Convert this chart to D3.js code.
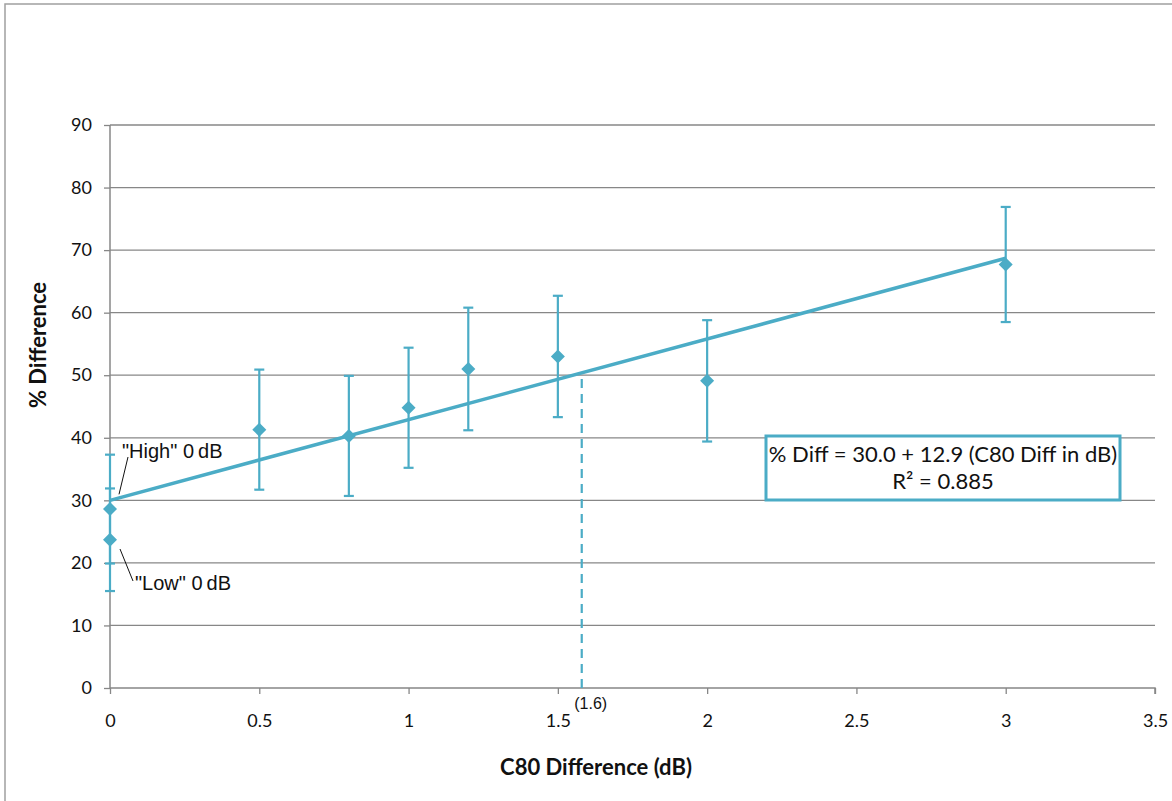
<!DOCTYPE html>
<html>
<head>
<meta charset="utf-8">
<script src="https://cdn.jsdelivr.net/npm/d3@7"></script>
<style>
  body { margin: 0; background: #fff; }
</style>
</head>
<body>
<div id="chart"></div>
<script>
// data
const xValues = [0, 0, 0.5, 0.8, 1, 1.2, 1.5, 2, 3];
const yValues = [28.6, 23.7, 41.3, 40.3, 44.8, 51.0, 53.0, 49.1, 67.7];
const errValues = [8.7, 8.2, 9.6, 9.6, 9.6, 9.8, 9.7, 9.7, 9.2];
const xTicks = [0, 0.5, 1, 1.5, 2, 2.5, 3, 3.5];
const yTicks = [0, 10, 20, 30, 40, 50, 60, 70, 80, 90];
const fitIntercept = 30.0, fitSlope = 12.9, fitR2 = 0.885;
const fitRange = [0, 3];
const crossX = 1.58;   // where the fit meets 50 %
const crossLabel = "(1.6)";

const width = 1172, height = 801;
const margin = { top: 125, right: 17, bottom: 113, left: 110 };
const blue = "#4BACC6";
const grey = "#878787";
const calibri = "Lato, Carlito, sans-serif";
const arial = "'Liberation Sans', Arial, sans-serif";

const svg = d3.select("#chart").append("svg")
    .attr("width", width)
    .attr("height", height);

// chart area frame (right and bottom are outside the picture)
svg.append("rect")
    .attr("x", 5).attr("y", 4)
    .attr("width", width + 10).attr("height", height + 10)
    .attr("fill", "none").attr("stroke", "#a0a0a0").attr("stroke-width", 1.5);

const x = d3.scaleLinear().domain([0, 3.5]).range([margin.left, width - margin.right]);
const y = d3.scaleLinear().domain([0, 90]).range([height - margin.bottom, margin.top]);

// gridlines
svg.append("g")
    .selectAll("line")
    .data(yTicks.filter(d => d > 0))
    .join("line")
    .attr("x1", x(0)).attr("x2", x(3.5))
    .attr("y1", d => y(d)).attr("y2", d => y(d))
    .attr("stroke", grey).attr("stroke-width", 1.3);

// axes
const yAxis = svg.append("g")
    .attr("transform", `translate(${x(0)},0)`)
    .call(d3.axisLeft(y).tickValues(yTicks).tickSize(6).tickPadding(12).tickFormat(d3.format("d")));

const xAxis = svg.append("g")
    .attr("transform", `translate(0,${y(0)})`)
    .call(d3.axisBottom(x).tickValues(xTicks).tickSize(6).tickPadding(20).tickFormat(d => d));

[yAxis, xAxis].forEach(g => {
    g.select(".domain").attr("stroke", grey).attr("stroke-width", 1.5);
    g.selectAll(".tick line").attr("stroke", grey).attr("stroke-width", 1.3);
    g.selectAll(".tick text")
        .attr("fill", "#111")
        .style("font-family", calibri)
        .style("font-size", "18px");
});
yAxis.select(".domain").attr("d", `M0,${y(90)}V${y(0)}`);
xAxis.select(".domain").attr("d", `M${x(0)},0H${x(3.5)}V6`);

// dashed drop line at the 50 % crossing
svg.append("line")
    .attr("x1", x(crossX)).attr("x2", x(crossX))
    .attr("y1", y(0)).attr("y2", y(fitIntercept + fitSlope * crossX))
    .attr("stroke", blue).attr("stroke-width", 2.2)
    .attr("stroke-dasharray", "9,6");

svg.append("text")
    .attr("x", x(crossX) + 9).attr("y", y(0) + 21)
    .attr("text-anchor", "middle")
    .style("font-family", arial)
    .style("font-size", "16px")
    .attr("fill", "#111")
    .text(crossLabel);

// error bars
const points = xValues.map((d, i) => ({ x: d, y: yValues[i], e: errValues[i] }));

const bars = svg.append("g")
    .attr("stroke", blue).attr("stroke-width", 2.2);
bars.selectAll("line.bar")
    .data(points)
    .join("line")
    .attr("class", "bar")
    .attr("x1", d => x(d.x)).attr("x2", d => x(d.x))
    .attr("y1", d => y(d.y - d.e)).attr("y2", d => y(d.y + d.e));
bars.selectAll("line.capTop")
    .data(points)
    .join("line")
    .attr("class", "capTop")
    .attr("x1", d => x(d.x) - 5).attr("x2", d => x(d.x) + 5)
    .attr("y1", d => y(d.y + d.e)).attr("y2", d => y(d.y + d.e));
bars.selectAll("line.capBottom")
    .data(points)
    .join("line")
    .attr("class", "capBottom")
    .attr("x1", d => x(d.x) - 5).attr("x2", d => x(d.x) + 5)
    .attr("y1", d => y(d.y - d.e)).attr("y2", d => y(d.y - d.e));

// linear fit
svg.append("line")
    .attr("x1", x(fitRange[0])).attr("y1", y(fitIntercept + fitSlope * fitRange[0]))
    .attr("x2", x(fitRange[1])).attr("y2", y(fitIntercept + fitSlope * fitRange[1]))
    .attr("stroke", blue).attr("stroke-width", 3.5);

// diamond markers
svg.append("g")
    .selectAll("path")
    .data(points)
    .join("path")
    .attr("transform", d => `translate(${x(d.x)},${y(d.y)})`)
    .attr("d", "M0,-7L7,0L0,7L-7,0Z")
    .attr("fill", blue);

// "High" / "Low" callouts
svg.append("text").attr("x", x(0) + 12).attr("y", 458)
    .style("font-family", arial).style("font-size", "20px").attr("fill", "#111")
    .text('"High" 0\u2009dB');
svg.append("text").attr("x", x(0) + 25).attr("y", 590)
    .style("font-family", arial).style("font-size", "20px").attr("fill", "#111")
    .text('"Low" 0\u2009dB');
svg.append("line")
    .attr("x1", x(0) + 9).attr("y1", y(fitIntercept) - 6)
    .attr("x2", x(0) + 18).attr("y2", 457)
    .attr("stroke", "#111").attr("stroke-width", 1);
svg.append("line")
    .attr("x1", x(0) + 10).attr("y1", 549)
    .attr("x2", x(0) + 23).attr("y2", 581)
    .attr("stroke", "#111").attr("stroke-width", 1);

// equation box
const box = svg.append("g");
box.append("rect")
    .attr("x", 766).attr("y", 436)
    .attr("width", 354).attr("height", 64)
    .attr("fill", "#fff")
    .attr("stroke", blue).attr("stroke-width", 3);
box.append("text")
    .attr("x", 943).attr("y", 462)
    .attr("text-anchor", "middle")
    .style("font-family", calibri)
    .style("font-size", "22px")
    .attr("fill", "#111")
    .text(`% Diff = ${fitIntercept.toFixed(1)} + ${fitSlope.toFixed(1)} (C80 Diff in dB)`);
box.append("text")
    .attr("x", 943).attr("y", 489)
    .attr("text-anchor", "middle")
    .style("font-family", calibri)
    .style("font-size", "22px")
    .attr("fill", "#111")
    .text(`R\u00B2 = ${fitR2.toFixed(3)}`);

// axis titles
svg.append("text")
    .attr("x", 596).attr("y", 775)
    .attr("text-anchor", "middle")
    .style("font-family", calibri)
    .style("font-size", "22px").style("font-weight", "bold")
    .attr("fill", "#111")
    .text("C80 Difference (dB)");
svg.append("text")
    .attr("transform", `translate(46,345) rotate(-90)`)
    .attr("text-anchor", "middle")
    .style("font-family", calibri)
    .style("font-size", "22px").style("font-weight", "bold")
    .attr("fill", "#111")
    .text("% Difference");
</script>
</body>
</html>
